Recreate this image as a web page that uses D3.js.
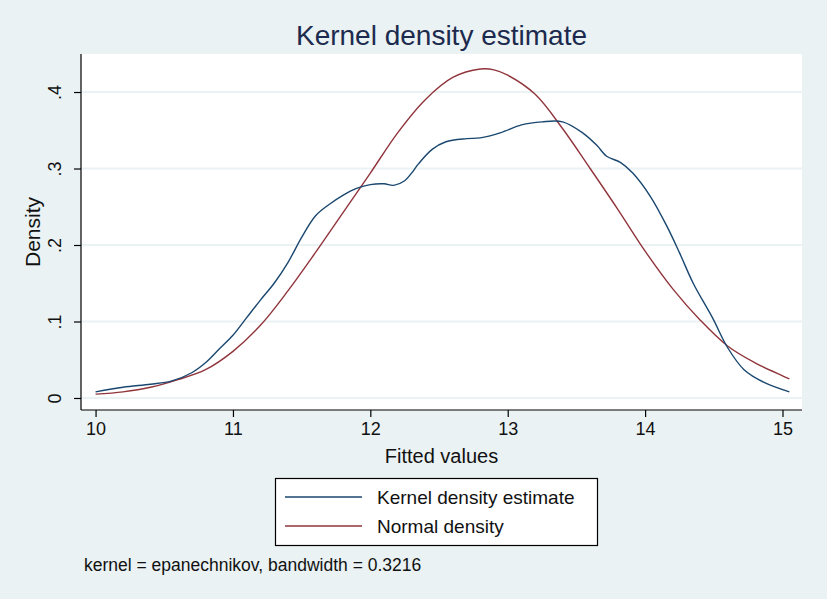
<!DOCTYPE html>
<html>
<head>
<meta charset="utf-8">
<script src="https://cdn.jsdelivr.net/npm/d3@7"></script>
<style>
html,body{margin:0;padding:0;background:#eaf2f3;}
svg{display:block;}
text{font-family:"Liberation Sans",Arial,sans-serif;}
</style>
</head>
<body>
<svg id="chart" width="827" height="599"></svg>
<script>
// ---- data ----
const kdeX = [10.0,10.2,10.4,10.55,10.7,10.8,10.9,11.0,11.1,11.2,11.3,11.4,11.5,11.6,11.7,11.8,11.9,12.0,12.1,12.17,12.25,12.3,12.35,12.45,12.55,12.7,12.8,12.95,13.1,13.25,13.4,13.55,13.65,13.72,13.82,13.91,14.04,14.16,14.25,14.35,14.49,14.6,14.72,14.87,15.05];
const kdeY = [0.008,0.014,0.018,0.022,0.033,0.046,0.064,0.082,0.105,0.128,0.150,0.177,0.210,0.238,0.253,0.265,0.274,0.279,0.280,0.278,0.284,0.294,0.306,0.325,0.335,0.339,0.340,0.347,0.357,0.361,0.361,0.346,0.330,0.316,0.308,0.294,0.263,0.224,0.190,0.150,0.105,0.066,0.037,0.020,0.008];
const normX = [10.0,10.2,10.4,10.6,10.8,11.0,11.2,11.4,11.6,11.8,12.0,12.2,12.4,12.6,12.8,12.9,13.0,13.2,13.4,13.6,13.8,14.0,14.2,14.4,14.6,14.8,15.0,15.05];
const normY = [0.005,0.008,0.014,0.024,0.037,0.061,0.095,0.140,0.190,0.242,0.294,0.347,0.390,0.419,0.430,0.429,0.422,0.397,0.352,0.300,0.247,0.192,0.143,0.102,0.068,0.046,0.029,0.025];
const xTicks = [10,11,12,13,14,15];
const yTicks = [0,0.1,0.2,0.3,0.4];
const yTickLabels = ["0",".1",".2",".3",".4"];
const seriesNames = ["Kernel density estimate","Normal density"];
const seriesColors = ["#1a476f","#90353b"];
const titleText = "Kernel density estimate";
const xTitle = "Fitted values";
const yTitle = "Density";
const noteText = "kernel = epanechnikov, bandwidth = 0.3216";

// ---- layout ----
const svg = d3.select("#chart");
const W = 827, H = 599;
const plot = {left:81, right:802, top:54, bottom:410};

const x = d3.scaleLinear().domain([9.894, 15.142]).range([plot.left, plot.right]);
const y = d3.scaleLinear().domain([-0.0157, 0.4497]).range([plot.bottom, plot.top]);

svg.append("rect").attr("width",W).attr("height",H).attr("fill","#eaf2f3");
svg.append("rect").attr("x",plot.left).attr("y",plot.top)
  .attr("width",plot.right-plot.left).attr("height",plot.bottom-plot.top).attr("fill","#ffffff");

// gridlines
svg.append("g").selectAll("line").data(yTicks).join("line")
  .attr("x1",plot.left).attr("x2",plot.right)
  .attr("y1",d=>y(d)).attr("y2",d=>y(d))
  .attr("stroke","#eaf2f3").attr("stroke-width",2);

// lines
const line = d3.line().x(d=>x(d[0])).y(d=>y(d[1])).curve(d3.curveCatmullRom.alpha(0.5));
const kde = kdeX.map((v,i)=>[v,kdeY[i]]);
const norm = normX.map((v,i)=>[v,normY[i]]);
svg.append("path").datum(norm).attr("d",line).attr("fill","none")
  .attr("stroke",seriesColors[1]).attr("stroke-width",1.4);
svg.append("path").datum(kde).attr("d",line).attr("fill","none")
  .attr("stroke",seriesColors[0]).attr("stroke-width",1.4);

// axes
const xAxis = d3.axisBottom(x).tickValues(xTicks).tickSize(7).tickPadding(5).tickFormat(d3.format("d"));
const gx = svg.append("g").attr("transform",`translate(0,${plot.bottom})`).call(xAxis);
gx.select(".domain").attr("d",`M${plot.left},0H${plot.right}`).attr("stroke","#000").attr("stroke-width",1.2);
gx.selectAll(".tick line").attr("stroke","#000").attr("stroke-width",1.2);
gx.selectAll(".tick text").attr("font-size","18px").attr("fill","#111")
  .attr("font-family","'Liberation Sans',Arial,sans-serif");

const yAxis = d3.axisLeft(y).tickValues(yTicks).tickSize(7).tickFormat((d,i)=>yTickLabels[i]);
const gy = svg.append("g").attr("transform",`translate(${plot.left},0)`).call(yAxis);
gy.select(".domain").attr("d",`M0,${plot.top}V${plot.bottom}`).attr("stroke","#000").attr("stroke-width",1.2);
gy.selectAll(".tick line").attr("stroke","#000").attr("stroke-width",1.2);
gy.selectAll(".tick text").attr("font-size","18px").attr("fill","#111")
  .attr("font-family","'Liberation Sans',Arial,sans-serif")
  .attr("text-anchor","middle").attr("dy",null)
  .attr("transform","rotate(-90)").attr("x",0).attr("y",-20);

// titles
svg.append("text").attr("x",(plot.left+plot.right)/2).attr("y",45)
  .attr("text-anchor","middle").attr("font-size","28px").attr("fill","#1c2a4e").text(titleText);
svg.append("text").attr("x",(plot.left+plot.right)/2).attr("y",463)
  .attr("text-anchor","middle").attr("font-size","20px").attr("fill","#111").text(xTitle);
svg.append("text").attr("transform",`translate(40,${(plot.top+plot.bottom)/2}) rotate(-90)`)
  .attr("text-anchor","middle").attr("font-size","21px").attr("fill","#111").text(yTitle);

// legend
const lg = svg.append("g");
lg.append("rect").attr("x",275.5).attr("y",478.5).attr("width",322).attr("height",67)
  .attr("fill","#ffffff").attr("stroke","#000").attr("stroke-width",1.2);
seriesNames.forEach((nm,i)=>{
  const yy = 497 + i*29;
  lg.append("line").attr("x1",285).attr("x2",362).attr("y1",yy).attr("y2",yy)
    .attr("stroke",seriesColors[i]).attr("stroke-width",1.4);
  lg.append("text").attr("x",377).attr("y",yy+7).attr("font-size","19px").attr("fill","#111").text(nm);
});

// note
svg.append("text").attr("x",84).attr("y",571).attr("font-size","17.5px").attr("fill","#111").text(noteText);
</script>
</body>
</html>
